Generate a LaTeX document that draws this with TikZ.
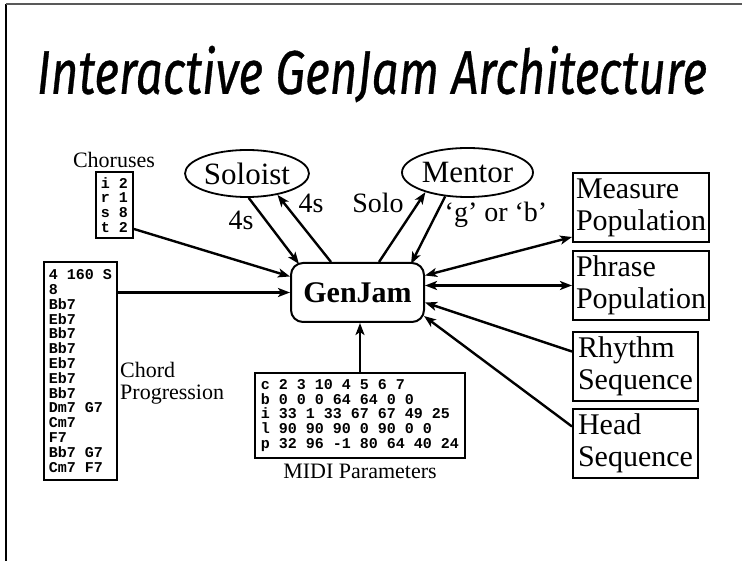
\documentclass[tikz,border=0pt]{standalone}
\usepackage{graphicx}
\usepackage{fontspec}
\setmainfont{Liberation Serif}
\setmonofont{Liberation Mono}
\newfontfamily\titlefont[ItalicFeatures={FakeBold=0.6}]{Fira Sans}
\usetikzlibrary{arrows.meta,shapes.geometric}

\begin{document}
\begin{tikzpicture}[x=1pt,y=-1pt,
	>={Stealth[length=12pt,width=9pt,inset=3pt]},
	box/.style={draw,line width=2pt,inner sep=0pt},
	data/.style={box,font=\ttfamily\bfseries\fontsize{15}{14.8}\selectfont,align=left},
	store/.style={box,anchor=north west,font=\fontsize{30}{32}\selectfont,align=left,minimum height=69pt},
	agent/.style={draw,ellipse,line width=1.8pt,inner sep=0pt,font=\fontsize{31}{31}\selectfont},
	lbl/.style={inner sep=0pt,font=\fontsize{28}{28}\selectfont},
	caption/.style={inner sep=0pt,font=\fontsize{22}{22}\selectfont,align=left},
	link/.style={line width=2.4pt,->},
	both/.style={line width=2.4pt,<->}]
	
	\useasboundingbox (0,0) rectangle (742,561);
	\draw[line width=2pt] (5.5,561) -- (5.5,4.5);
	\draw[line width=2pt,black!65] (5.5,4.5) -- (742,4.5);
	
	\node[inner sep=0pt] (title) at (372,74) {\resizebox{670pt}{48pt}{\titlefont\itshape Interactive GenJam Architecture}};
	
	\node[draw,rounded corners=12pt,line width=2pt,minimum width=133pt,minimum height=59pt,
		font=\bfseries\fontsize{30}{30}\selectfont] (genjam) at (357.5,292.5) {GenJam};
	
	\node[agent,minimum width=124pt,minimum height=47pt] (soloist) at (247,173.5) {Soloist};
	\node[agent,minimum width=131pt,minimum height=49pt] (mentor) at (467.5,172.5) {Mentor};
	
	\node[data,minimum width=37pt,minimum height=66pt] (choruses) at (114.5,205) {i 2\\r 1\\s 8\\t 2};
	\node[caption] (chorlbl) at (114,160) {Choruses};
	
	\node[data,minimum width=73pt,minimum height=218pt] (chord) at (80.5,371)
		{4 160 S\\8\\Bb7\\Eb7\\Bb7\\Bb7\\Eb7\\Eb7\\Bb7\\Dm7 G7\\Cm7\\F7\\Bb7 G7\\Cm7 F7};
	\node[caption,anchor=north west] (chordlbl) at (120,362) {Chord\\Progression};
	
	\node[data,minimum width=210pt,minimum height=85pt] (midi) at (360,415.5)
		{c 2 3 10 4 5 6 7\\b 0 0 0 64 64 0 0\\i 33 1 33 67 67 49 25\\l 90 90 90 0 90 0 0\\p 32 96 -1 80 64 40 24};
	\node[caption] (midilbl) at (360,471) {MIDI Parameters};
	
	\node[store,minimum width=136pt] (measure) at (572,172) {Measure\\Population};
	\node[store,minimum width=136pt] (phrase) at (572,250) {Phrase\\Population};
	\node[store,minimum width=125pt] (rhythm) at (572,331) {Rhythm\\Sequence};
	\node[store,minimum width=125pt] (head) at (572,408) {Head\\Sequence};
	
	\node[lbl] (fours1) at (241,220) {4s};
	\node[lbl] (fours2) at (311,203) {4s};
	\node[lbl] (solo) at (378,203) {Solo};
	\node[lbl] (grade) at (496,215) {`g' or `b'};
	
	\draw[link] (soloist.-86) -- ([xshift=9pt,yshift=-2pt]genjam.north west);
	\draw[link] ([xshift=41pt]genjam.north west) -- (soloist.-35);
	\draw[link] ([xshift=89pt]genjam.north west) -- (mentor.-155);
	\draw[link] (mentor.-133) -- ([xshift=-14pt,yshift=-2pt]genjam.north east);
	\draw[both] ([yshift=17pt]genjam.east) -- ([yshift=6pt]measure.south west);
	\draw[both] (genjam.east |- phrase.west) -- (phrase.west);
	\draw[link] ([yshift=15pt]rhythm.west) -- ([yshift=-10pt]genjam.east);
	\draw[link] ([yshift=17pt]head.west) -- ([xshift=-1pt,yshift=7pt]genjam.south east);
	\draw[link] ([yshift=10pt]choruses.south east) -- ([yshift=16pt]genjam.west);
	\draw[link] (chord.north east |- genjam.west) -- (genjam.west);
	\draw[link] (midi.north) -- (midi.north |- genjam.south);
\end{tikzpicture}
\end{document}
